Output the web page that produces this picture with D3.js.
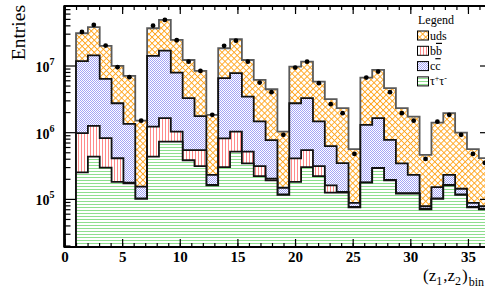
<!DOCTYPE html>
<html>
<head>
<meta charset="utf-8">
<script src="https://cdn.jsdelivr.net/npm/d3@7"></script>
<style>
  body { margin: 0; background: #fff; }
  svg { display: block; font-family: "Liberation Serif", "DejaVu Serif", serif; }
</style>
</head>
<body>
<svg id="chart" width="485" height="300"></svg>
<script>
// histogram binning: 36 bins between 1 and 38
var nBins = 36, binLo = 1, binHi = 38;

// bin contents per sample (stacked bottom to top: tautau, bbbar, ccbar, uds)
var tautau = [2.5e5, 4.3e5, 2.95e5, 1.8e5, 1.71e5, 1.0e5,
              4.3e5, 7.2e5, 7.2e5, 3.8e5, 3.1e5, 1.6e5,
              3.0e5, 5.1e5, 3.4e5, 2.2e5, 1.9e5, 1.15e5,
              1.8e5, 3.0e5, 2.2e5, 1.24e5, 1.24e5, 7.5e4,
              1.75e5, 2.9e5, 1.9e5, 1.2e5, 1.2e5, 7.0e4,
              1.0e5, 1.6e5, 1.15e5, 7.5e4, 7.0e4, 6e4];
var bbbar  = [7.2e5, 8.1e5, 5.2e5, 2.27e5, 4e3, 2e3,
              7.8e5, 9.0e5, 3.0e5, 1.6e5, 2.3e5, 2e3,
              5.1e5, 5.1e5, 1.7e5, 0.9e5, 1.1e4, 2e3,
              2.25e5, 2.4e5, 0.9e5, 3.6e4, 3e3, 1e3,
              2e3, 2e3, 2e3, 2e3, 2e3, 1e3,
              2e3, 2e3, 2e3, 1e3, 1e3, 1e3];
var ccbar  = [1.07e7, 1.29e7, 5.49e6, 2.31e6, 1.16e6, 5.1e4,
              1.27e7, 1.51e7, 6.81e6, 2.70e6, 1.2e6, 6.7e4,
              5.64e6, 6.65e6, 2.91e6, 1.14e6, 5.6e5, 3.0e4,
              2.31e6, 2.70e6, 1.14e6, 4.6e5, 2.16e5, 1.1e4,
              1.11e6, 1.33e6, 5.74e5, 2.2e5, 1.07e5, 6.6e3,
              4.8e4, 6.7e4, 2.5e4, 1.1e4, 6.6e3, 5e3];
var uds    = [1.88e7, 2.34e7, 1.34e7, 7.14e6, 5.65e6, 1.34e6,
              2.23e7, 3.16e7, 1.64e7, 8.86e6, 6.55e6, 1.59e6,
              1.17e7, 1.71e7, 8.68e6, 4.64e6, 3.64e6, 8.75e5,
              6.91e6, 8.16e6, 4.30e6, 2.51e6, 1.95e6, 4.7e5,
              5.3e6, 6.97e6, 3.80e6, 1.95e6, 1.48e6, 3.8e5,
              1.24e6, 1.70e6, 8.46e5, 4.7e5, 3.3e5, 2.0e5];
var dataPts = [3.19e7, 4.06e7, 1.99e7, 9.44e6, 6.68e6, 1.49e6,
               3.96e7, 4.83e7, 2.39e7, 1.14e7, 8.3e6, 1.82e6,
               1.97e7, 2.36e7, 1.14e7, 5.54e6, 3.98e6, 9.12e5,
               9.31e6, 1.14e7, 5.43e6, 2.63e6, 1.93e6, 4.73e5,
               6.59e6, 8.11e6, 3.98e6, 1.93e6, 1.49e6, 3.98e5,
               1.44e6, 1.82e6, 9.12e5, 4.73e5, 3.47e5, 1.8e5];

var xTicks = [0, 5, 10, 15, 20, 25, 30, 35];
var yExponents = [5, 6, 7];

var samples = [
  { name: "uds",    values: uds,    pattern: "pat-uds" },
  { name: "ccbar",  values: ccbar,  pattern: "pat-cc" },
  { name: "bbbar",  values: bbbar,  pattern: "pat-bb" },
  { name: "tautau", values: tautau, pattern: "pat-tt" }
];

var plotL = 64.5, plotR = 491, plotT = 6, plotB = 247;

var x = d3.scaleLinear().domain([0, 37]).range([plotL, plotR]);
var y = d3.scaleLog().domain([1.9e4, 7.8e7]).range([plotB, plotT]);
var binW = (binHi - binLo) / nBins;

var svg = d3.select("#chart");
var defs = svg.append("defs");

// ROOT-like hatch fills, each on a white background
var p = defs.append("pattern").attr("id", "pat-uds").attr("patternUnits", "userSpaceOnUse")
  .attr("width", 4.3).attr("height", 4.3).attr("patternTransform", "rotate(45)");
p.append("rect").attr("width", 4.3).attr("height", 4.3).attr("fill", "#fff");
p.append("path").attr("d", "M0,0.5H4.3M0.5,0V4.3").attr("stroke", "#ffa31a").attr("stroke-width", 0.9);

p = defs.append("pattern").attr("id", "pat-bb").attr("patternUnits", "userSpaceOnUse")
  .attr("width", 3).attr("height", 3);
p.append("rect").attr("width", 3).attr("height", 3).attr("fill", "#fff");
p.append("path").attr("d", "M0.5,0V3").attr("stroke", "#ff8a8a").attr("stroke-width", 1);

p = defs.append("pattern").attr("id", "pat-cc").attr("patternUnits", "userSpaceOnUse")
  .attr("width", 2).attr("height", 2);
p.append("rect").attr("width", 2).attr("height", 2).attr("fill", "#fff");
p.append("rect").attr("width", 1).attr("height", 1).attr("fill", "#a4a4f6");
p.append("rect").attr("x", 1).attr("y", 1).attr("width", 1).attr("height", 1).attr("fill", "#a4a4f6");

p = defs.append("pattern").attr("id", "pat-tt").attr("patternUnits", "userSpaceOnUse")
  .attr("width", 3).attr("height", 3);
p.append("rect").attr("width", 3).attr("height", 3).attr("fill", "#fff");
p.append("path").attr("d", "M0,0.5H3").attr("stroke", "#8ede8e").attr("stroke-width", 1);

defs.append("clipPath").attr("id", "frame-clip")
  .append("rect").attr("x", plotL).attr("y", plotT)
  .attr("width", plotR - plotL).attr("height", plotB - plotT);

// cumulative sums, from the top of the stack downward
var cum = [];
for (var s = 0; s < samples.length; s++) {
  var c = [];
  for (var i = 0; i < nBins; i++) {
    var v = 0;
    for (var k = s; k < samples.length; k++) v += samples[k].values[i];
    c.push(v);
  }
  cum.push(c);
}

function stepPoints(vals) {
  var pts = [];
  vals.forEach(function(v, i) {
    pts.push([binLo + i * binW, v]);
    pts.push([binLo + (i + 1) * binW, v]);
  });
  return pts;
}

var area = d3.area()
  .x(function(d) { return x(d[0]); })
  .y0(plotB)
  .y1(function(d) { return y(d[1]); });

var outline = d3.line()
  .x(function(d) { return x(d[0]); })
  .y(function(d) { return d[1] === null ? plotB : y(d[1]); });

var plot = svg.append("g").attr("clip-path", "url(#frame-clip)");

samples.forEach(function(smp, s) {
  var pts = stepPoints(cum[s]);
  plot.append("path").datum(pts)
    .attr("d", area)
    .attr("fill", "url(#" + smp.pattern + ")");
  var line = [[binLo, null]].concat(pts).concat([[binHi, null]]);
  plot.append("path").datum(line)
    .attr("d", outline)
    .attr("fill", "none")
    .attr("stroke", s === 0 ? "#5a5a5a" : "#111")
    .attr("stroke-width", 1.8);
});

// data points
plot.selectAll("circle.data")
  .data(dataPts)
  .enter()
  .append("circle")
  .attr("class", "data")
  .attr("cx", function(d, i) { return x(binLo + (i + 0.5) * binW); })
  .attr("cy", function(d) { return y(d); })
  .attr("r", 2.4)
  .attr("fill", "#000");

// axes: ticks pointing into the frame
var minorX = d3.range(0, 38);
var minorY = [];
for (var e = 4; e <= 7; e++) {
  for (var m = 2; m <= 9; m++) {
    var mv = m * Math.pow(10, e);
    if (mv > y.domain()[0] && mv < y.domain()[1]) minorY.push(mv);
  }
}
var majorY = yExponents.map(function(e) { return Math.pow(10, e); });

function styleAxis(g) {
  g.select(".domain").remove();
  g.selectAll(".tick line").attr("stroke", "#000").attr("stroke-width", 1.2);
}

svg.append("g").attr("transform", "translate(0," + plotB + ")")
  .call(d3.axisBottom(x).tickValues(minorX).tickSize(-4).tickFormat(""))
  .call(styleAxis);
svg.append("g").attr("transform", "translate(0," + plotB + ")")
  .call(d3.axisBottom(x).tickValues(xTicks).tickSize(-8).tickPadding(4).tickFormat(d3.format("d")))
  .call(styleAxis)
  .call(function(g) {
    g.selectAll("text").attr("font-size", 15).attr("font-weight", "bold").attr("fill", "#000")
      .attr("font-family", "Liberation Serif, serif");
  });
svg.append("g").attr("transform", "translate(0," + plotT + ")")
  .call(d3.axisTop(x).tickValues(minorX).tickSize(-4).tickFormat(""))
  .call(styleAxis);
svg.append("g").attr("transform", "translate(0," + plotT + ")")
  .call(d3.axisTop(x).tickValues(xTicks).tickSize(-8).tickFormat(""))
  .call(styleAxis);

svg.append("g").attr("transform", "translate(" + plotL + ",0)")
  .call(d3.axisLeft(y).tickValues(minorY).tickSize(-6).tickFormat(""))
  .call(styleAxis);
svg.append("g").attr("transform", "translate(" + plotL + ",0)")
  .call(d3.axisLeft(y).tickValues(majorY).tickSize(-11).tickPadding(10).tickFormat(""))
  .call(styleAxis)
  .call(function(g) {
    g.selectAll(".tick").each(function(d) {
      var t = d3.select(this).select("text")
        .attr("dy", null).attr("y", 6)
        .attr("font-size", 14).attr("font-weight", "bold").attr("fill", "#000")
        .attr("font-family", "Liberation Serif, serif");
      t.append("tspan").text("10");
      t.append("tspan").attr("dy", -7).attr("font-size", 10)
        .text(Math.round(Math.log10(d)));
    });
  });
svg.append("g").attr("transform", "translate(" + plotR + ",0)")
  .call(d3.axisRight(y).tickValues(minorY).tickSize(-6).tickFormat(""))
  .call(styleAxis);
svg.append("g").attr("transform", "translate(" + plotR + ",0)")
  .call(d3.axisRight(y).tickValues(majorY).tickSize(-11).tickFormat(""))
  .call(styleAxis);

// frame
svg.append("rect")
  .attr("x", plotL).attr("y", plotT)
  .attr("width", plotR - plotL).attr("height", plotB - plotT)
  .attr("fill", "none").attr("stroke", "#000").attr("stroke-width", 2);
svg.append("line")
  .attr("x1", plotL).attr("x2", plotL).attr("y1", plotT).attr("y2", plotB)
  .attr("stroke", "#000").attr("stroke-width", 2.6);

// axis titles
svg.append("text")
  .attr("transform", "translate(25,5) rotate(-90)")
  .attr("text-anchor", "end")
  .attr("font-size", 19.5)
  .text("Entries");

var xt = svg.append("text").attr("x", 423).attr("y", 281).attr("font-size", 17);
xt.append("tspan").text("(z");
xt.append("tspan").attr("dy", 4).attr("font-size", 12).text("1");
xt.append("tspan").attr("dy", -4).attr("dx", 1).text(",z");
xt.append("tspan").attr("dy", 4).attr("font-size", 12).text("2");
xt.append("tspan").attr("dy", -4).attr("dx", 1).text(")");
xt.append("tspan").attr("dy", 5).attr("dx", 1).attr("font-size", 12).text("bin");

// legend
var legend = svg.append("g").attr("font-size", 12);
legend.append("text").attr("x", 418).attr("y", 24).text("Legend");
var legendRows = [
  { pattern: "pat-uds", label: ["uds"] },
  { pattern: "pat-bb", label: ["b", "b"] },
  { pattern: "pat-cc", label: ["c", "c"] },
  { pattern: "pat-tt", label: ["τ", "+", "τ", "-"] }
];
legendRows.forEach(function(r, i) {
  var cy = 35.5 + i * 15.3;
  legend.append("rect")
    .attr("x", 417.5).attr("y", cy - 4.5).attr("width", 11).attr("height", 9)
    .attr("fill", "url(#" + r.pattern + ")")
    .attr("stroke", "#000").attr("stroke-width", 1);
  var t = legend.append("text").attr("x", 430).attr("y", cy + 4);
  if (r.label.length === 1) {
    t.text(r.label[0]);
  } else if (r.label.length === 2) {
    t.append("tspan").text(r.label[0]);
    t.append("tspan").attr("text-decoration", "overline").text(r.label[1]);
  } else {
    t.append("tspan").text(r.label[0]);
    t.append("tspan").attr("dy", -4).attr("font-size", 8).text(r.label[1]);
    t.append("tspan").attr("dy", 4).text(r.label[2]);
    t.append("tspan").attr("dy", -4).attr("font-size", 8).text(r.label[3]);
  }
});
</script>
</body>
</html>
